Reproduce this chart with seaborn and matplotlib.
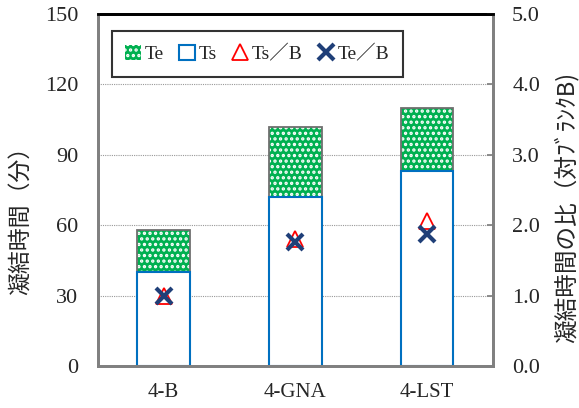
import matplotlib
matplotlib.use("Agg")
import matplotlib.pyplot as plt
import matplotlib.patches as mpatches
from matplotlib.lines import Line2D
import seaborn as sns

# data
categories = ["4-B", "4-GNA", "4-LST"]
te_values = [58, 102, 110]      # Te (分)
ts_values = [40, 72, 83]        # Ts (分)
ts_ratio = [1.0, 1.8, 2.06]     # Ts/B
te_ratio = [1.0, 1.76, 1.88]    # Te/B

GREEN = "#00B050"
BLUE = "#0070C0"
RED = "#FF0000"
NAVY = "#1F3F78"
GRAY = "#808080"

sns.set_theme(style="white")
plt.rcParams["font.family"] = ["Liberation Serif", "Noto Sans CJK JP"]
plt.rcParams["hatch.linewidth"] = 1.6
CJK = ["Noto Sans CJK JP", "DejaVu Sans"]

fig, ax = plt.subplots(figsize=(5.79, 4.08), dpi=100)
fig.subplots_adjust(left=0.169, right=0.851, top=0.966, bottom=0.103)

# Te: green bar with white dots
sns.barplot(x=categories, y=te_values, color=GREEN, saturation=1, width=0.4,
            linewidth=0, ax=ax)
for p in ax.patches:
    p.set_hatch("...")
    p.set_edgecolor("white")
# outline of Te bars
sns.barplot(x=categories, y=te_values, color="#6f6f6f", fill=False, width=0.4,
            linewidth=1.3, saturation=1, ax=ax)
# Ts: white bar with blue edge
sns.barplot(x=categories, y=ts_values, color="white", edgecolor=BLUE, width=0.4,
            linewidth=1.5, saturation=1, ax=ax)

ax.set_ylim(0, 150)
ax.set_yticks([0, 30, 60, 90, 120, 150])
ax.set_xlim(-0.5, 2.5)
ax.yaxis.grid(True, linestyle=(0, (1, 1)), color="#999999", linewidth=0.8)
ax.set_axisbelow(True)
ax.set_xlabel("")
ax.set_ylabel("凝結時間（分）", family=CJK, fontsize=16.5)
ax.yaxis.set_label_coords(-0.165, 0.43)
ax.tick_params(axis="y", labelsize=16, length=0, pad=14)
ax.tick_params(axis="x", labelsize=15, length=0, pad=12)

# ratio markers on right axis
ax2 = ax.twinx()
sns.pointplot(x=categories, y=ts_ratio, color=RED, markers="^", linestyle="none",
              markersize=12, errorbar=None, ax=ax2)
sns.pointplot(x=categories, y=te_ratio, color=NAVY, markers="x", linestyle="none",
              markersize=12, markeredgewidth=3, errorbar=None, ax=ax2)
for ln in ax2.lines:
    if ln.get_marker() == "^":
        ln.set_markerfacecolor("none")
        ln.set_markeredgewidth(1.3)
ax2.set_ylim(0, 5)
ax2.set_yticks([0, 1, 2, 3, 4, 5])
ax2.set_yticklabels([f"{v:.1f}" for v in [0, 1, 2, 3, 4, 5]])
ax2.set_xlim(-0.5, 2.5)
ax2.set_ylabel("凝結時間の比（対ﾌﾞﾗﾝｸB)", family=CJK, fontsize=17)
ax2.yaxis.set_label_coords(1.155, 0.45)
ax2.tick_params(axis="y", labelsize=16, direction="in", length=4, color=GRAY, pad=14)

for a in (ax, ax2):
    for side in ("left", "right", "bottom"):
        a.spines[side].set_color(GRAY)
        a.spines[side].set_linewidth(2)
    a.spines["top"].set_color("black")
    a.spines["top"].set_linewidth(2)

handles = [
    mpatches.Patch(facecolor=GREEN, edgecolor="white", hatch="...", linewidth=0),
    mpatches.Patch(facecolor="white", edgecolor=BLUE, linewidth=1.5),
    Line2D([], [], marker="^", linestyle="none", markerfacecolor="none",
           markeredgecolor=RED, markersize=11, markeredgewidth=1.3),
    Line2D([], [], marker="x", linestyle="none", color=NAVY, markersize=11,
           markeredgewidth=3),
]
labels = ["Te", "Ts", "Ts／B", "Te／B"]
leg = ax2.legend(handles, labels, loc="upper left", bbox_to_anchor=(0.035, 0.95),
                 ncol=4, frameon=True, fancybox=False, fontsize=14,
                 handlelength=0.8, handleheight=0.8, handletextpad=0.2,
                 columnspacing=0.8, borderpad=0.7, borderaxespad=0)
leg.get_frame().set_edgecolor("black")
leg.get_frame().set_linewidth(1.5)
for t in leg.get_texts():
    t.set_family(["Liberation Serif", "Noto Sans CJK JP"])

fig.savefig("out.png", dpi=100)
